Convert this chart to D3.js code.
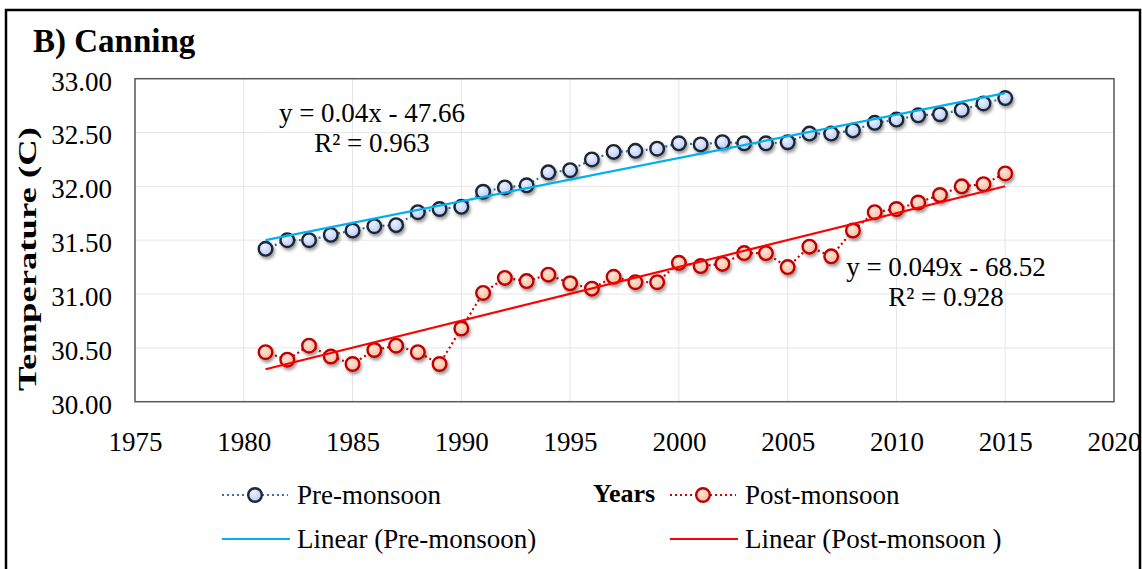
<!DOCTYPE html>
<html>
<head>
<meta charset="utf-8">
<script src="https://cdn.jsdelivr.net/npm/d3@7"></script>
<style>
    body { margin: 0; background: #fff; }
    text { font-family: "Liberation Serif", "Times New Roman", serif; fill: #000; }
</style>
</head>
<body>
<div class="chart"></div>
<script>
/*--------------------------------------------------------------------------
+++ Data
--------------------------------------------------------------------------*/
var years = d3.range(1981, 2016);

var preMonsoon = [31.42, 31.50, 31.50, 31.55, 31.59, 31.63, 31.64, 31.76, 31.79, 31.81,
    31.95, 31.99, 32.01, 32.13, 32.15, 32.25, 32.32, 32.33, 32.35, 32.40,
    32.39, 32.41, 32.40, 32.40, 32.41, 32.49, 32.49, 32.52, 32.59, 32.62,
    32.66, 32.67, 32.71, 32.77, 32.82];

var postMonsoon = [30.46, 30.39, 30.52, 30.42, 30.35, 30.48, 30.52, 30.46, 30.35, 30.68,
    31.01, 31.15, 31.12, 31.18, 31.10, 31.05, 31.16, 31.11, 31.11, 31.29,
    31.26, 31.28, 31.38, 31.38, 31.25, 31.44, 31.35, 31.59, 31.76, 31.79,
    31.85, 31.92, 32.00, 32.02, 32.12];

var xTicks = [1975, 1980, 1985, 1990, 1995, 2000, 2005, 2010, 2015, 2020];
var yTicks = [30, 30.5, 31, 31.5, 32, 32.5, 33];

var preEquation = ["y = 0.04x - 47.66", "R² = 0.963"];
var postEquation = ["y = 0.049x - 68.52", "R² = 0.928"];

/*--------------------------------------------------------------------------
+++ Chart space
--------------------------------------------------------------------------*/
var svgWidth = 1142;
var svgHeight = 569;

var margin = { top: 78.7, right: 28, bottom: 167.3, left: 135 };
var width = svgWidth - margin.left - margin.right;
var height = svgHeight - margin.top - margin.bottom;

var svg = d3.select(".chart")
    .append("svg")
    .attr("width", svgWidth)
    .attr("height", svgHeight);

// marker shadow + fills
var defs = svg.append("defs");
var shadow = defs.append("filter").attr("id", "shadow")
    .attr("x", "-50%").attr("y", "-50%").attr("width", "200%").attr("height", "200%");
shadow.append("feDropShadow")
    .attr("dx", 1.5).attr("dy", 2.5).attr("stdDeviation", 1.6)
    .attr("flood-color", "#000").attr("flood-opacity", 0.4);

var blueGrad = defs.append("radialGradient").attr("id", "blueFill")
    .attr("cx", "40%").attr("cy", "35%").attr("r", "70%");
blueGrad.append("stop").attr("offset", "0%").attr("stop-color", "#eef2ff");
blueGrad.append("stop").attr("offset", "100%").attr("stop-color", "#b4c6f8");

var redGrad = defs.append("radialGradient").attr("id", "redFill")
    .attr("cx", "40%").attr("cy", "35%").attr("r", "70%");
redGrad.append("stop").attr("offset", "0%").attr("stop-color", "#ffe6d8");
redGrad.append("stop").attr("offset", "100%").attr("stop-color", "#f9b99c");

// outer frame
svg.append("rect")
    .attr("x", 6).attr("y", 10)
    .attr("width", 1134).attr("height", 600)
    .attr("fill", "none")
    .attr("stroke", "#000")
    .attr("stroke-width", 2.5);

svg.append("text")
    .attr("x", 33).attr("y", 52)
    .attr("font-size", 33)
    .attr("font-weight", "bold")
    .text("B) Canning");

var chartGroup = svg.append("g")
    .attr("transform", `translate(${margin.left}, ${margin.top})`);

/*--------------------------------------------------------------------------
+++ Scales
--------------------------------------------------------------------------*/
var xLinearScale = d3.scaleLinear()
    .domain([1975, 2020])
    .range([0, width]);

var yLinearScale = d3.scaleLinear()
    .domain([30, 33])
    .range([height, 0]);

/*--------------------------------------------------------------------------
+++ Grid, border, axes
--------------------------------------------------------------------------*/
chartGroup.append("g")
    .selectAll("line.vgrid")
    .data(xTicks)
    .enter()
    .append("line")
    .attr("x1", d => xLinearScale(d)).attr("x2", d => xLinearScale(d))
    .attr("y1", 0).attr("y2", height)
    .attr("stroke", "#e6e6e6").attr("stroke-width", 1);

chartGroup.append("g")
    .selectAll("line.hgrid")
    .data(yTicks)
    .enter()
    .append("line")
    .attr("x1", 0).attr("x2", width)
    .attr("y1", d => yLinearScale(d)).attr("y2", d => yLinearScale(d))
    .attr("stroke", "#e6e6e6").attr("stroke-width", 1);

chartGroup.append("rect")
    .attr("width", width).attr("height", height)
    .attr("fill", "none")
    .attr("stroke", "#595959")
    .attr("stroke-width", 1.5);

var bottomAxis = d3.axisBottom(xLinearScale)
    .tickValues(xTicks).tickSize(0).tickPadding(30)
    .tickFormat(d3.format("d"));
var leftAxis = d3.axisLeft(yLinearScale)
    .tickValues(yTicks).tickSize(0).tickPadding(23)
    .tickFormat(d3.format(".2f"));

var xAxisG = chartGroup.append("g")
    .attr("transform", `translate(0, ${height})`)
    .call(bottomAxis);
var yAxisG = chartGroup.append("g")
    .call(leftAxis);

[xAxisG, yAxisG].forEach(function (g) {
    g.select(".domain").remove();
    g.selectAll("text")
        .attr("font-family", "Liberation Serif")
        .attr("font-size", 27)
        .attr("fill", "#000");
});
yAxisG.selectAll("text").attr("dy", "0.42em");

/*--------------------------------------------------------------------------
+++ Trend lines (least squares like Excel)
--------------------------------------------------------------------------*/
function linearFit(xs, ys) {
    var mx = d3.mean(xs), my = d3.mean(ys);
    var sxy = d3.sum(xs, (x, i) => (x - mx) * (ys[i] - my));
    var sxx = d3.sum(xs, x => (x - mx) * (x - mx));
    var slope = sxy / sxx;
    return { slope: slope, intercept: my - slope * mx };
}

var line = d3.line()
    .x(d => xLinearScale(d[0]))
    .y(d => yLinearScale(d[1]));

var series = [
    { values: preMonsoon, dot: "#2e75b6", stroke: "#1e2733", fill: "url(#blueFill)", trend: "#00b0f0" },
    { values: postMonsoon, dot: "#d40000", stroke: "#c00000", fill: "url(#redFill)", trend: "#ff0000" }
];

series.forEach(function (s) {
    var pts = years.map((y, i) => [y, s.values[i]]);

    chartGroup.append("path")
        .datum(pts)
        .attr("d", line)
        .attr("fill", "none")
        .attr("stroke", s.dot)
        .attr("stroke-width", 2.2)
        .attr("stroke-dasharray", "2,3");

    chartGroup.append("g")
        .attr("filter", "url(#shadow)")
        .selectAll("circle")
        .data(pts)
        .enter()
        .append("circle")
        .attr("cx", d => xLinearScale(d[0]))
        .attr("cy", d => yLinearScale(d[1]))
        .attr("r", 6.8)
        .attr("fill", s.fill)
        .attr("stroke", s.stroke)
        .attr("stroke-width", 2.4);
});

series.forEach(function (s) {
    var fit = linearFit(years, s.values);
    var ends = [years[0], years[years.length - 1]].map(x => [x, fit.intercept + fit.slope * x]);
    chartGroup.append("path")
        .datum(ends)
        .attr("d", line)
        .attr("fill", "none")
        .attr("stroke", s.trend)
        .attr("stroke-width", 2.2);
});

/*--------------------------------------------------------------------------
+++ Equations
--------------------------------------------------------------------------*/
function equation(lines, cx, y0) {
    svg.append("g").selectAll("text")
        .data(lines)
        .enter()
        .append("text")
        .attr("x", cx)
        .attr("y", (d, i) => y0 + i * 30)
        .attr("text-anchor", "middle")
        .attr("font-size", 27)
        .text(d => d);
}
equation(preEquation, 372, 122);
equation(postEquation, 946, 276);

/*--------------------------------------------------------------------------
+++ Axis titles and legend
--------------------------------------------------------------------------*/
svg.append("text")
    .attr("transform", "translate(36, 259) rotate(-90)")
    .attr("text-anchor", "middle")
    .attr("font-size", 25)
    .attr("font-weight", "bold")
    .attr("textLength", 264)
    .attr("lengthAdjust", "spacingAndGlyphs")
    .text("Temperature (C)");

svg.append("text")
    .attr("x", 593).attr("y", 502)
    .attr("font-size", 26)
    .attr("font-weight", "bold")
    .text("Years");

var legendItems = [
    { label: "Pre-monsoon", x: 222, y: 495, s: series[0], marker: true },
    { label: "Linear (Pre-monsoon)", x: 222, y: 539, s: series[0], marker: false },
    { label: "Post-monsoon", x: 670, y: 495, s: series[1], marker: true },
    { label: "Linear (Post-monsoon )", x: 670, y: 539, s: series[1], marker: false }
];

var legend = svg.append("g");
legendItems.forEach(function (d) {
    var g = legend.append("g").attr("transform", `translate(${d.x}, ${d.y})`);
    if (d.marker) {
        g.append("line")
            .attr("x1", 0).attr("x2", 66)
            .attr("stroke", d.s.dot).attr("stroke-width", 2.2)
            .attr("stroke-dasharray", "2,3");
        g.append("circle")
            .attr("cx", 33).attr("r", 6.8)
            .attr("fill", d.s.fill)
            .attr("stroke", d.s.stroke).attr("stroke-width", 2.4);
    } else {
        g.append("line")
            .attr("x1", 0).attr("x2", 68)
            .attr("stroke", d.s.trend).attr("stroke-width", 2.2);
    }
    g.append("text")
        .attr("x", 75).attr("y", 9)
        .attr("font-size", 27)
        .text(d.label);
});
</script>
</body>
</html>
